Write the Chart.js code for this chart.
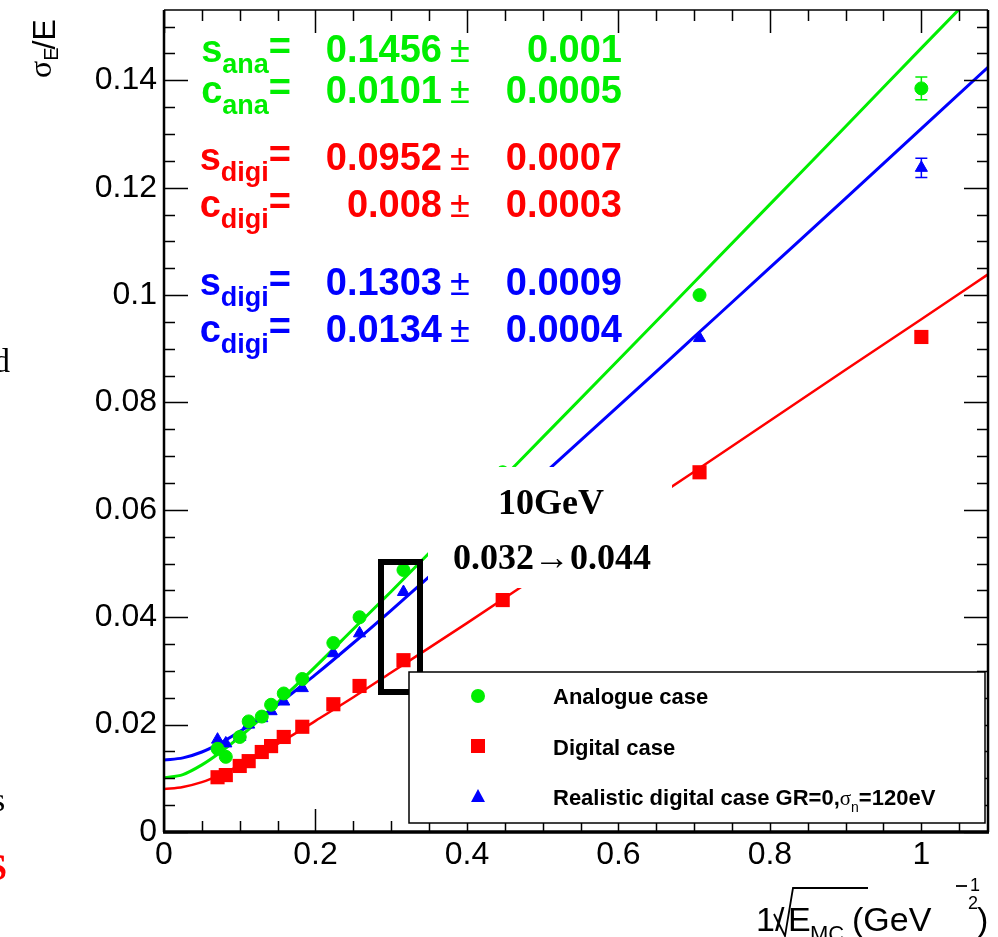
<!DOCTYPE html>
<html>
<head>
<meta charset="utf-8">
<style>
  html, body { margin: 0; padding: 0; background: #fff; }
  canvas { display: block; }
</style>
<script src="https://cdn.jsdelivr.net/npm/chart.js@4.4.0/dist/chart.umd.min.js"></script>
</head>
<body>
<canvas id="c" width="998" height="937"></canvas>
<script>
// 1/sqrt(E) of the beam energies (200 ... 1 GeV)
const energyX = [0.0707, 0.0816, 0.1, 0.1118, 0.1291, 0.1414, 0.1581, 0.1826, 0.2236, 0.2582, 0.3162, 0.4472, 0.7071, 1.0];

// measured sigma_E/E
const analogueY   = [0.0155, 0.0140, 0.0177, 0.0206, 0.0215, 0.0237, 0.0258, 0.0285, 0.0352, 0.0400, 0.0488, 0.0670, 0.1000, 0.1385];
const analogueErr = [0.0004, 0.0004, 0.0004, 0.0004, 0.0004, 0.0004, 0.0005, 0.0005, 0.0006, 0.0006, 0.0007, 0.0009, 0.0012, 0.0021];
const digitalY    = [0.0102, 0.0106, 0.0123, 0.0132, 0.0149, 0.0160, 0.0177, 0.0196, 0.0238, 0.0272, 0.0320, 0.0432, 0.0670, 0.0922];
const digitalErr  = [0.0002, 0.0002, 0.0002, 0.0002, 0.0003, 0.0003, 0.0003, 0.0003, 0.0004, 0.0004, 0.0005, 0.0006, 0.0008, 0.0010];
const realisticY  = [0.0172, 0.0165, 0.0177, 0.0200, 0.0212, 0.0225, 0.0243, 0.0268, 0.0333, 0.0370, 0.0447, 0.0590, 0.0920, 0.1237];
const realisticErr= [0.0004, 0.0004, 0.0004, 0.0004, 0.0004, 0.0004, 0.0005, 0.0005, 0.0006, 0.0006, 0.0007, 0.0009, 0.0011, 0.0018];

// fitted curves
const fitX    = [0, 0.025, 0.05, 0.075, 0.1, 0.125, 0.15, 0.175, 0.2, 0.25, 0.3, 0.4, 0.5, 0.6, 0.7, 0.8, 0.9, 1.0, 1.1];
const fitAnaY = [0.0101, 0.0107, 0.0125, 0.0149, 0.0177, 0.0208, 0.0241, 0.0274, 0.0308, 0.0378, 0.0448, 0.0591, 0.0735, 0.0879, 0.1024, 0.1169, 0.1314, 0.1460, 0.1605];
const fitDigY = [0.0080, 0.0084, 0.0093, 0.0107, 0.0124, 0.0143, 0.0164, 0.0185, 0.0207, 0.0251, 0.0297, 0.0389, 0.0483, 0.0577, 0.0671, 0.0766, 0.0861, 0.0955, 0.1050];
const fitRealY= [0.0134, 0.0138, 0.0149, 0.0166, 0.0187, 0.0211, 0.0237, 0.0265, 0.0293, 0.0352, 0.0413, 0.0538, 0.0665, 0.0793, 0.0922, 0.1051, 0.1180, 0.1310, 0.1440];

const xTicks = [0, 0.2, 0.4, 0.6, 0.8, 1];
const yTicks = [0, 0.02, 0.04, 0.06, 0.08, 0.1, 0.12, 0.14];

const fitSymbols = ['s', 'c', 's', 'c', 's', 'c'];
const fitSubs    = ['ana', 'ana', 'digi', 'digi', 'digi', 'digi'];
const fitValues  = ['0.1456', '0.0101', '0.0952', '0.008', '0.1303', '0.0134'];
const fitErrors  = ['0.001', '0.0005', '0.0007', '0.0003', '0.0009', '0.0004'];

const legendLabels = ['Analogue case', 'Digital case', 'Realistic digital case GR=0,'];

const GREEN = '#00ee00', RED = '#ff0000', BLUE = '#0000ff';
const SANS = '"Liberation Sans", Arial, sans-serif';
const SERIF = '"Liberation Serif", "Times New Roman", serif';

const pts = (xs, ys) => xs.map((x, i) => ({ x: x, y: ys[i] }));

// ROOT-like frame with inside ticks on all four sides
const framePlugin = {
  id: 'frame',
  afterDatasetsDraw(chart) {
    const { ctx, chartArea: a, scales: { x, y } } = chart;
    ctx.save();
    ctx.strokeStyle = '#000';
    ctx.lineWidth = 1.5;
    ctx.beginPath();
    for (let k = 0; k * 0.05 <= 1.0881; k++) {
      const px = Math.round(x.getPixelForValue(k * 0.05)) + 0.5;
      const len = k % 4 === 0 ? 23 : 11;
      ctx.moveTo(px, a.bottom); ctx.lineTo(px, a.bottom - len);
      ctx.moveTo(px, a.top); ctx.lineTo(px, a.top + len);
    }
    for (let k = 0; k * 0.005 <= 0.1531; k++) {
      const py = Math.round(y.getPixelForValue(k * 0.005)) + 0.5;
      const len = k % 4 === 0 ? 24 : 11;
      ctx.moveTo(a.left, py); ctx.lineTo(a.left + len, py);
      ctx.moveTo(a.right, py); ctx.lineTo(a.right - len, py);
    }
    ctx.stroke();
    ctx.lineWidth = 1.5;
    ctx.beginPath();
    ctx.moveTo(a.left, a.top); ctx.lineTo(a.right, a.top);
    ctx.stroke();
    ctx.lineWidth = 2.5;
    ctx.beginPath();
    ctx.moveTo(a.left, a.bottom); ctx.lineTo(a.left, a.top);
    ctx.moveTo(a.right, a.bottom); ctx.lineTo(a.right, a.top);
    ctx.stroke();
    ctx.lineWidth = 3.5;
    ctx.beginPath();
    ctx.moveTo(a.left - 1, a.bottom); ctx.lineTo(a.right + 1, a.bottom);
    ctx.stroke();
    ctx.restore();
  }
};

// vertical error bars with end caps
const errorPlugin = {
  id: 'errbars',
  afterDatasetsDraw(chart) {
    const { ctx, scales: { x, y } } = chart;
    const sets = [[analogueY, analogueErr, GREEN], [digitalY, digitalErr, RED], [realisticY, realisticErr, BLUE]];
    ctx.save();
    ctx.lineWidth = 1.5;
    sets.forEach(([ys, es, col]) => {
      ctx.strokeStyle = col;
      energyX.forEach((xv, i) => {
        const px = x.getPixelForValue(xv);
        const top = y.getPixelForValue(ys[i] + es[i]);
        const bot = y.getPixelForValue(ys[i] - es[i]);
        if (bot - top < 16) return;
        ctx.beginPath();
        ctx.moveTo(px, top); ctx.lineTo(px, bot);
        ctx.moveTo(px - 6, top); ctx.lineTo(px + 6, top);
        ctx.moveTo(px - 6, bot); ctx.lineTo(px + 6, bot);
        ctx.stroke();
      });
    });
    ctx.restore();
  }
};

// fit results, annotation box, legend and axis titles
const textPlugin = {
  id: 'texts',
  afterDraw(chart) {
    const { ctx } = chart;
    ctx.save();

    // fit parameters
    const baselines = [62, 103, 170, 217, 295, 342];
    const colors = [GREEN, GREEN, RED, RED, BLUE, BLUE];
    fitSymbols.forEach((sym, i) => {
      const b = baselines[i];
      ctx.fillStyle = colors[i];
      ctx.textBaseline = 'alphabetic';
      ctx.textAlign = 'left';
      ctx.font = 'bold 38px ' + SANS;
      const wSym = ctx.measureText(sym).width;
      const wEq = ctx.measureText('=').width;
      ctx.font = 'bold 27px ' + SANS;
      const wSub = ctx.measureText(fitSubs[i]).width;
      let sx = 291 - (wSym + wSub + wEq);
      ctx.font = 'bold 38px ' + SANS;
      ctx.fillText(sym, sx, b);
      ctx.font = 'bold 27px ' + SANS;
      ctx.fillText(fitSubs[i], sx + wSym, b + 11);
      ctx.font = 'bold 38px ' + SANS;
      ctx.fillText('=', sx + wSym + wSub, b - 3);
      ctx.textAlign = 'right';
      ctx.fillText(fitValues[i], 442, b);
      ctx.textAlign = 'left';
      ctx.font = '36px ' + SANS;
      ctx.fillText('\u00b1', 450, b);
      ctx.font = 'bold 38px ' + SANS;
      ctx.textAlign = 'right';
      ctx.fillText(fitErrors[i], 622, b);
    });

    // highlighted 10 GeV point
    ctx.fillStyle = '#fff';
    ctx.fillRect(428, 467, 244, 121);
    ctx.fillStyle = '#000';
    ctx.textAlign = 'center';
    ctx.textBaseline = 'alphabetic';
    ctx.font = 'bold 36px ' + SERIF;
    ctx.fillText('10GeV', 551, 514);
    ctx.fillText('0.032\u21920.044', 552, 569);
    ctx.strokeStyle = '#000';
    ctx.lineWidth = 6;
    ctx.strokeRect(381, 562, 39, 130);

    // legend box
    ctx.fillStyle = '#fff';
    ctx.fillRect(409, 672, 576, 151);
    ctx.strokeStyle = '#000';
    ctx.lineWidth = 1.5;
    ctx.strokeRect(409, 672, 576, 151);
    ctx.fillStyle = GREEN;
    ctx.beginPath(); ctx.arc(478, 696, 7, 0, Math.PI * 2); ctx.fill();
    ctx.fillStyle = RED;
    ctx.fillRect(471, 739, 14, 14);
    ctx.fillStyle = BLUE;
    ctx.beginPath(); ctx.moveTo(478, 789); ctx.lineTo(485, 802); ctx.lineTo(471, 802); ctx.closePath(); ctx.fill();
    ctx.fillStyle = '#000';
    ctx.textAlign = 'left';
    ctx.textBaseline = 'alphabetic';
    ctx.font = 'bold 22px ' + SANS;
    ctx.fillText(legendLabels[0], 553, 704);
    ctx.fillText(legendLabels[1], 553, 755);
    ctx.fillText(legendLabels[2], 553, 805);
    let lx = 553 + ctx.measureText(legendLabels[2]).width;
    ctx.font = '21px ' + SERIF;
    ctx.fillText('\u03c3', lx, 805);
    lx += ctx.measureText('\u03c3').width;
    ctx.font = '14px ' + SANS;
    ctx.fillText('n', lx, 812);
    lx += ctx.measureText('n').width;
    ctx.font = 'bold 22px ' + SANS;
    ctx.fillText('=120eV', lx, 805);

    // y title sigma_E/E (rotated)
    ctx.save();
    ctx.translate(55, 78);
    ctx.rotate(-Math.PI / 2);
    ctx.textAlign = 'left';
    ctx.font = '32px ' + SERIF;
    ctx.fillText('\u03c3', 0, -4);
    let tx = ctx.measureText('\u03c3').width;
    ctx.font = '20px ' + SANS;
    ctx.fillText('E', tx, 3);
    tx += ctx.measureText('E').width;
    ctx.font = '32px ' + SANS;
    ctx.fillText('/E', tx - 2, 0);
    ctx.restore();

    // x title 1/sqrt(E_MC) (GeV^-1/2)
    ctx.font = '34px ' + SANS;
    ctx.textAlign = 'left';
    ctx.fillText('1/', 756, 931);
    ctx.lineWidth = 1.8;
    ctx.beginPath();
    ctx.moveTo(774, 914); ctx.lineTo(785, 936); ctx.lineTo(793, 888); ctx.lineTo(868, 888);
    ctx.stroke();
    ctx.fillText('E', 788, 931);
    ctx.font = '22px ' + SANS;
    ctx.fillText('MC', 810, 941);
    ctx.font = '34px ' + SANS;
    ctx.fillText('(GeV', 852, 931);
    ctx.beginPath(); ctx.moveTo(956, 886); ctx.lineTo(967, 886); ctx.stroke();
    ctx.font = '18px ' + SANS;
    ctx.fillText('1', 970, 891);
    ctx.fillText('2', 968, 909);
    ctx.font = '34px ' + SANS;
    ctx.fillText(')', 977, 931);

    // slide text cut at the left edge
    ctx.font = '34px ' + SERIF;
    ctx.fillText('d', -7, 372);
    ctx.fillText('s', -8, 811);
    ctx.fillStyle = RED;
    ctx.font = 'bold 38px ' + SERIF;
    ctx.fillText('S', -14, 880);
    ctx.restore();
  }
};

const tickFont = { family: SANS, size: 32 };

new Chart(document.getElementById('c'), {
  type: 'scatter',
  data: {
    datasets: [
      { label: 'Analogue case', data: pts(energyX, analogueY), pointStyle: 'circle', pointRadius: 6.5,
        pointBackgroundColor: GREEN, pointBorderColor: GREEN, pointBorderWidth: 1, order: 0 },
      { label: 'Digital case', data: pts(energyX, digitalY), pointStyle: 'rect', pointRadius: 10,
        pointBackgroundColor: RED, pointBorderColor: RED, pointBorderWidth: 0, order: 0 },
      { label: 'Realistic digital case', data: pts(energyX, realisticY), pointStyle: 'triangle', pointRadius: 7,
        pointBackgroundColor: BLUE, pointBorderColor: BLUE, pointBorderWidth: 1, order: 0 },
      { label: 'fit ana', data: pts(fitX, fitAnaY), showLine: true, borderColor: GREEN, borderWidth: 3,
        pointRadius: 0, cubicInterpolationMode: 'monotone', order: 1 },
      { label: 'fit digi', data: pts(fitX, fitDigY), showLine: true, borderColor: RED, borderWidth: 2.5,
        pointRadius: 0, cubicInterpolationMode: 'monotone', order: 1 },
      { label: 'fit real', data: pts(fitX, fitRealY), showLine: true, borderColor: BLUE, borderWidth: 3,
        pointRadius: 0, cubicInterpolationMode: 'monotone', order: 1 }
    ]
  },
  options: {
    responsive: false,
    animation: false,
    devicePixelRatio: 1,
    layout: { padding: { top: 10, right: 10, left: 0, bottom: 0 } },
    plugins: { legend: { display: false }, tooltip: { enabled: false } },
    scales: {
      x: {
        type: 'linear', min: 0, max: 1.088,
        grid: { display: false, drawTicks: false }, border: { display: false },
        afterFit: s => { s.height = 105; s.paddingLeft = 0; s.paddingRight = 0; },
        afterBuildTicks: s => { s.ticks = xTicks.map(v => ({ value: v })); },
        ticks: { font: tickFont, color: '#000', padding: 4, maxRotation: 0, autoSkip: false,
                 callback: v => String(v) }
      },
      y: {
        type: 'linear', min: 0, max: 0.1531,
        grid: { display: false, drawTicks: false }, border: { display: false },
        afterFit: s => { s.width = 164; s.paddingTop = 0; s.paddingBottom = 0; },
        afterBuildTicks: s => { s.ticks = yTicks.map(v => ({ value: v })); },
        ticks: { font: tickFont, color: '#000', padding: 7, autoSkip: false,
                 callback: v => String(v) }
      }
    }
  },
  plugins: [framePlugin, errorPlugin, textPlugin]
});
</script>
</body>
</html>
